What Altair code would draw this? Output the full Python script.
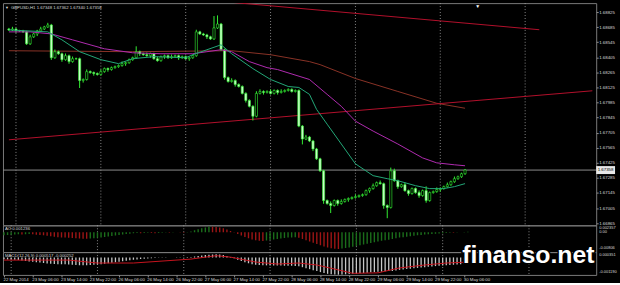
import altair as alt
import pandas as pd

# ---------------- data ----------------
first_open = 1.68668
close = [
    1.68659, 1.68668, 1.68650, 1.68650, 1.68641, 1.68530, 1.68595, 1.68622, 1.68650, 1.68668,
    1.68687, 1.68705, 1.68401, 1.68457, 1.68438, 1.68383, 1.68420, 1.68365, 1.68392, 1.68392,
    1.68190, 1.68199, 1.68272, 1.68263, 1.68254, 1.68245, 1.68272, 1.68300, 1.68291, 1.68309,
    1.68318, 1.68328, 1.68346, 1.68355, 1.68383, 1.68401, 1.68457, 1.68438, 1.68429, 1.68420,
    1.68438, 1.68392, 1.68374, 1.68411, 1.68420, 1.68401, 1.68411, 1.68420, 1.68401, 1.68411,
    1.68392, 1.68401, 1.68420, 1.68641, 1.68622, 1.68613, 1.68595, 1.68576, 1.68678, 1.68714,
    1.68475, 1.68217, 1.68180, 1.68190, 1.68153, 1.68134, 1.68070, 1.68005, 1.67950, 1.67858,
    1.68070, 1.68088, 1.68079, 1.68088, 1.68070, 1.68097, 1.68079, 1.68088, 1.68097, 1.68107,
    1.68088, 1.68097, 1.67766, 1.67646, 1.67665, 1.67628, 1.67554, 1.67462, 1.67351, 1.67075,
    1.67047, 1.67029, 1.67075, 1.67047, 1.67066, 1.67084, 1.67094, 1.67103, 1.67112, 1.67121,
    1.67130, 1.67167, 1.67186, 1.67213, 1.67241, 1.67232, 1.67029, 1.67011, 1.67351, 1.67259,
    1.67204, 1.67222, 1.67167, 1.67140, 1.67186, 1.67149, 1.67121, 1.67167, 1.67075, 1.67149,
    1.67158, 1.67177, 1.67186, 1.67204, 1.67222, 1.67250, 1.67278, 1.67296, 1.67324, 1.67358,
]
upper_wick_pips = [
    1, 2, 1, 1, 1, 1, 2, 1, 1, 2, 1, 2, 1, 2, 1, 1, 2, 1, 2, 1,
    1, 1, 2, 1, 1, 1, 2, 1, 1, 1, 1, 1, 2, 1, 1, 1, 5, 1, 1, 2,
    1, 1, 2, 1, 1, 1, 2, 1, 1, 1, 1, 1, 1, 2, 1, 1, 1, 1, 11, 8,
    1, 1, 1, 2, 1, 1, 1, 1, 1, 1, 2, 2, 1, 1, 2, 1, 1, 2, 1, 1,
    1, 1, 1, 1, 2, 1, 1, 1, 1, 1, 1, 2, 1, 1, 2, 1, 1, 1, 2, 1,
    1, 1, 1, 2, 1, 2, 1, 1, 3, 2, 1, 1, 2, 1, 1, 1, 2, 1, 4, 1,
    1, 2, 1, 1, 2, 1, 2, 1, 1, 1,
]
lower_wick_pips = [
    1, 1, 2, 1, 1, 1, 1, 1, 2, 1, 1, 1, 2, 1, 1, 2, 1, 2, 1, 1,
    7, 2, 1, 1, 2, 1, 1, 1, 2, 1, 1, 1, 1, 2, 1, 1, 1, 2, 1, 1,
    2, 1, 1, 1, 2, 1, 1, 1, 2, 1, 1, 2, 1, 1, 1, 1, 2, 1, 1, 1,
    1, 2, 1, 1, 2, 1, 1, 2, 1, 4, 1, 1, 2, 1, 1, 1, 2, 1, 1, 1,
    1, 1, 1, 5, 1, 1, 2, 1, 1, 3, 1, 7, 1, 2, 1, 1, 2, 1, 1, 1,
    1, 1, 2, 1, 1, 1, 3, 10, 1, 1, 2, 1, 1, 2, 1, 1, 2, 1, 2, 1,
    1, 1, 2, 1, 1, 1, 1, 1, 1, 1,
]

fast_ma_bar = [0, 11, 15, 20, 26, 31, 35, 41, 50, 52, 56, 60, 63, 69, 74, 79, 82, 85, 87, 90,
               94, 98, 103, 107, 110, 115, 119, 123, 126, 129]
fast_ma_val = [1.68659, 1.68641, 1.68567, 1.68457, 1.68383, 1.68346, 1.68392, 1.68411, 1.68401, 1.68429,
               1.68475, 1.68521, 1.68438, 1.68300, 1.68199, 1.68134, 1.68125, 1.68061, 1.67922, 1.67784,
               1.67600, 1.67416, 1.67306, 1.67278, 1.67259, 1.67213, 1.67186, 1.67186, 1.67204, 1.67232]
mid_ma_bar = [0, 6, 12, 18, 27, 35, 43, 52, 56, 60, 63, 68, 73, 76, 85, 90, 94, 98, 103, 110,
              117, 121, 126, 129]
mid_ma_val = [1.68641, 1.68641, 1.68622, 1.68567, 1.68484, 1.68447, 1.68438, 1.68438, 1.68457, 1.68475,
              1.68457, 1.68365, 1.68309, 1.68291, 1.68199, 1.68061, 1.67950, 1.67812, 1.67720, 1.67600,
              1.67471, 1.67425, 1.67407, 1.67398]
slow_ma_bar = [0, 35, 63, 74, 85, 88, 98, 110, 121, 129]
slow_ma_val = [1.68466, 1.68457, 1.68466, 1.68429, 1.68365, 1.68337, 1.68208, 1.68088, 1.67978, 1.67932]

trend_name = ["upper", "upper", "lower", "lower"]
trend_bar = [60, 150, 0, 165]
trend_val = [1.68924, 1.68661, 1.67639, 1.68094]

day_sep_bars = [2, 26, 50, 74, 98, 122, 146]
last_price = 1.67358
last_price_label = "1.67358"

ao_val = [
    -0.0012, -0.0011, -0.0010, -0.0009, -0.0008, -0.0009, -0.0008, -0.0007, -0.0008, -0.0010,
    -0.0011, -0.0012, -0.0014, -0.0016, -0.0018, -0.0020, -0.0021, -0.0022, -0.0023, -0.0024,
    -0.0025, -0.0026, -0.0027, -0.0027, -0.0026, -0.0025, -0.0023, -0.0021, -0.0019, -0.0017,
    -0.0015, -0.0013, -0.0011, -0.0009, -0.0007, -0.0006, -0.0004, -0.0003, -0.0004, -0.0003,
    -0.0002, -0.0003, -0.0004, -0.0003, -0.0002, -0.0001, -0.0002, -0.0001, 0.0000, -0.0001,
    -0.0002, -0.0001, 0.0003, 0.0008, 0.0012, 0.0016, 0.0019, 0.0023, 0.0022, 0.0021,
    0.0019, 0.0016, 0.0011, 0.0005, -0.0001, -0.0007, -0.0013, -0.0019, -0.0025, -0.0030,
    -0.0033, -0.0035, -0.0036, -0.0034, -0.0032, -0.0030, -0.0028, -0.0026, -0.0024, -0.0022,
    -0.0021, -0.0020, -0.0023, -0.0028, -0.0033, -0.0038, -0.0043, -0.0048, -0.0053, -0.0058,
    -0.0062, -0.0065, -0.0067, -0.0068, -0.0066, -0.0064, -0.0062, -0.0059, -0.0056, -0.0053,
    -0.0050, -0.0047, -0.0044, -0.0041, -0.0038, -0.0035, -0.0033, -0.0031, -0.0028, -0.0025,
    -0.0022, -0.0020, -0.0018, -0.0016, -0.0014, -0.0012, -0.0011, -0.0009, -0.0008, -0.0007,
    -0.0006, -0.0005, -0.0004, -0.0003, -0.0002, -0.0002, -0.0001, 0.0000, 0.0001, 0.0002,
]
macd_val = [
    -0.00015, -0.00017, -0.00020, -0.00020, -0.00022, -0.00025, -0.00030, -0.00033, -0.00036, -0.00040,
    -0.00042, -0.00045, -0.00050, -0.00052, -0.00054, -0.00055, -0.00056, -0.00057, -0.00058, -0.00060,
    -0.00062, -0.00064, -0.00065, -0.00064, -0.00062, -0.00060, -0.00058, -0.00055, -0.00052, -0.00048,
    -0.00044, -0.00040, -0.00036, -0.00032, -0.00028, -0.00024, -0.00020, -0.00017, -0.00014, -0.00011,
    -0.00009, -0.00007, -0.00005, -0.00004, -0.00003, -0.00002, -0.00001, 0.00000, 0.00001, 0.00002,
    0.00002, 0.00003, 0.00004, 0.00008, 0.00012, 0.00016, 0.00019, 0.00021, 0.00023, 0.00025,
    0.00024, 0.00020, 0.00012, 0.00003, -0.00008, -0.00020, -0.00030, -0.00040, -0.00048, -0.00055,
    -0.00060, -0.00062, -0.00064, -0.00065, -0.00066, -0.00066, -0.00067, -0.00067, -0.00068, -0.00068,
    -0.00069, -0.00070, -0.00072, -0.00080, -0.00088, -0.00096, -0.00104, -0.00112, -0.00120, -0.00128,
    -0.00134, -0.00138, -0.00140, -0.00141, -0.00140, -0.00138, -0.00136, -0.00134, -0.00132, -0.00130,
    -0.00128, -0.00125, -0.00122, -0.00120, -0.00118, -0.00116, -0.00114, -0.00112, -0.00110, -0.00106,
    -0.00102, -0.00098, -0.00095, -0.00092, -0.00089, -0.00086, -0.00083, -0.00080, -0.00077, -0.00074,
    -0.00071, -0.00068, -0.00066, -0.00064, -0.00062, -0.00060, -0.00058, -0.00056, -0.00054, -0.00052,
]
signal_bar = [0, 18, 26, 36, 52, 59, 63, 70, 76, 82, 87, 93, 97, 104, 110, 117, 123, 129]
signal_val = [-0.00022, -0.00022, -0.00046, -0.00046, -0.00014, 0.00014, 0.00002, -0.00038, -0.00054,
              -0.00046, -0.00062, -0.00102, -0.00130, -0.00126, -0.00086, -0.00062, -0.00046, -0.00038]

price_ticks = [1.66865, 1.67005, 1.67145, 1.67285, 1.67425, 1.67565, 1.67705, 1.67845,
               1.67985, 1.68125, 1.68265, 1.68405, 1.68545, 1.68685, 1.68825]
time_tick_bars = [0, 8, 16, 24, 32, 40, 48, 56, 64, 72, 80, 88, 96, 104, 112, 120, 128]
time_tick_labels = ["22 May 2014", "23 May 06:00", "23 May 14:00", "23 May 22:00", "26 May 06:00",
                    "26 May 14:00", "26 May 22:00", "27 May 06:00", "27 May 14:00", "27 May 22:00",
                    "28 May 06:00", "28 May 14:00", "28 May 22:00", "29 May 06:00", "29 May 14:00",
                    "29 May 22:00", "30 May 06:00"]

title_text = "GBPUSD,H1  1.67348 1.67362 1.67340 1.67358"
ao_title = "AO 0.001236"
macd_title = "MACD(12,26,9) 0.000517 -0.000252"
ao_scale_labels = ["0.002357", "0.00", "-0.00806"]
macd_scale_labels = ["0.000351", "-0.001190"]
watermark = "finanso.net"

# ---------------- tables ----------------
n = len(close)
bars = list(range(n))
opens = [first_open] + close[:-1]
high = [max(o, c) + u * 0.0001 for o, c, u in zip(opens, close, upper_wick_pips)]
low = [min(o, c) - d * 0.0001 for o, c, d in zip(opens, close, lower_wick_pips)]
candles = pd.DataFrame({"bar": bars, "open": opens, "close": close, "high": high, "low": low})
candles["fill"] = ["#000000" if c >= o else "#c8ffc8" for o, c in zip(opens, close)]

fast_df = pd.DataFrame({"bar": fast_ma_bar, "val": fast_ma_val})
mid_df = pd.DataFrame({"bar": mid_ma_bar, "val": mid_ma_val})
slow_df = pd.DataFrame({"bar": slow_ma_bar, "val": slow_ma_val})
trend_df = pd.DataFrame({"name": trend_name, "bar": trend_bar, "val": trend_val})
grid_df = pd.DataFrame({"bar": day_sep_bars})
last_df = pd.DataFrame({"price": [last_price], "label": [last_price_label]})

AO_UP, AO_DOWN = "#1b6e1b", "#9c1515"
ao_colors = [AO_UP] + [AO_UP if ao_val[i] > ao_val[i - 1] else AO_DOWN for i in range(1, n)]
ao_df = pd.DataFrame({"bar": bars, "ao": ao_val, "zero": [0.0] * n, "color": ao_colors})
macd_df = pd.DataFrame({"bar": bars, "macd": macd_val, "zero": [0.0] * n})
signal_df = pd.DataFrame({"bar": signal_bar, "sig": signal_val})

# ---------------- encodings ----------------
FONT = "Liberation Sans"
TXT = "#d8d8d8"
X_DOMAIN = [-0.276, 164.69]


def xenc(axis=None):
    return alt.X("bar:Q", scale=alt.Scale(domain=X_DOMAIN, nice=False, zero=False), axis=axis)


main_scale = alt.Scale(domain=[1.66845, 1.68908], nice=False, zero=False)
main_axis = alt.Axis(orient="right", values=price_ticks, format=".5f", labelFontSize=4.4,
                     labelColor=TXT, labelFont=FONT, tickColor="#909090", tickSize=2,
                     labelPadding=0.5, domain=False, grid=False, title=None,
                     labelBaseline="middle", labelOverlap=False, labelFlush=False)


def ymain(f):
    return alt.Y(f"{f}:Q", scale=main_scale, axis=main_axis)


def one(text):
    return pd.DataFrame({"t": [text]})


def label(text, x, y, size=4.3, color=TXT, align="left", baseline="middle"):
    return alt.Chart(one(text)).mark_text(align=align, baseline=baseline, fontSize=size,
                                          color=color, font=FONT).encode(
        x=alt.value(x), y=alt.value(y), text="t:N")


# ---------------- main panel ----------------
grid_main = alt.Chart(grid_df).mark_rule(color="#a8a8a8", strokeDash=[1, 2], strokeWidth=0.8).encode(x=xenc())
slow = alt.Chart(slow_df).mark_line(color="#8a3326", strokeWidth=1, clip=True).encode(x=xenc(), y=ymain("val"))
trend = alt.Chart(trend_df).mark_line(color="#b3102c", strokeWidth=1, clip=True).encode(
    x=xenc(), y=ymain("val"), detail="name:N")
lastline = alt.Chart(last_df).mark_rule(color="#8c8c8c", strokeWidth=1).encode(y=ymain("price"))
wicks = alt.Chart(candles).mark_rule(color="#33ee33", strokeWidth=1, clip=True).encode(
    x=xenc(), y=ymain("low"), y2="high")
bodies = alt.Chart(candles).mark_bar(width=2.2, stroke="#33ee33", strokeWidth=0.6, clip=True).encode(
    x=xenc(), y=ymain("open"), y2="close", fill=alt.Fill("fill:N", scale=None))
mid = alt.Chart(mid_df).mark_line(color="#b02cb0", strokeWidth=1, clip=True).encode(x=xenc(), y=ymain("val"))
fast = alt.Chart(fast_df).mark_line(color="#23a878", strokeWidth=1, clip=True).encode(x=xenc(), y=ymain("val"))
box = alt.Chart(last_df).mark_rule(color="#e8e8e8", strokeWidth=8).encode(
    x=alt.value(598), x2=alt.value(617), y=ymain("price"))
box_text = alt.Chart(last_df).mark_text(align="left", baseline="middle", fontSize=4.4,
                                        color="#000000", font=FONT).encode(
    x=alt.value(599.5), y=ymain("price"), text="label:N")

main = alt.layer(
    grid_main, slow, trend, lastline, wicks, bodies, mid, fast, box, box_text,
    label("\u25bc", 2, 4.7, size=4), label(title_text, 8, 4.7), label("\u25bc", 476, 2.5, size=5, color="#ffffff"),
).properties(width=598, height=224)

# ---------------- AO panel ----------------
ao_scale = alt.Scale(domain=[-0.00804, 0.00276], nice=False, zero=False)
grid_ao = alt.Chart(grid_df).mark_rule(color="#a8a8a8", strokeDash=[1, 2], strokeWidth=0.8).encode(x=xenc())
ao_bars = alt.Chart(ao_df).mark_rule(strokeWidth=1.4, clip=True).encode(
    x=xenc(), y=alt.Y("ao:Q", scale=ao_scale, axis=None), y2="zero", color=alt.Color("color:N", scale=None))
ao_panel = alt.layer(
    grid_ao, ao_bars,
    label(ao_title, 2, 4),
    label(ao_scale_labels[0], 601, 2.3, size=4.0),
    label(ao_scale_labels[1], 601, 7.2, size=4.0),
    label(ao_scale_labels[2], 601, 23, size=4.0),
).properties(width=598, height=27)

# ---------------- MACD panel ----------------
labels_js = "[" + ",".join("'%s'" % s for s in time_tick_labels) + "]"
x_axis = alt.Axis(values=time_tick_bars, labelExpr=labels_js + "[round(datum.value/8)]",
                  labelAlign="left", labelBaseline="top", labelFontSize=4.4, labelFont=FONT,
                  labelColor=TXT, tickColor="#909090", tickSize=2, labelPadding=1, domain=False,
                  grid=False, title=None, labelOverlap=False, labelFlush=False, labelOffset=-1)
macd_scale = alt.Scale(domain=[-0.00143, 0.00043], nice=False, zero=False)
grid_macd = alt.Chart(grid_df).mark_rule(color="#a8a8a8", strokeDash=[1, 2], strokeWidth=0.8).encode(
    x=xenc(x_axis))
macd_bars = alt.Chart(macd_df).mark_rule(color="#c8c8c8", strokeWidth=1.3, clip=True).encode(
    x=xenc(x_axis), y=alt.Y("macd:Q", scale=macd_scale, axis=None), y2="zero")
sig_line = alt.Chart(signal_df).mark_line(color="#c8141e", strokeWidth=1, clip=True).encode(
    x=xenc(x_axis), y=alt.Y("sig:Q", scale=macd_scale, axis=None))
wm_shadow = alt.Chart(one(watermark)).mark_text(
    align="left", baseline="alphabetic", fontSize=25, fontWeight="bold", font=FONT,
    color="#000000", stroke="#000000", strokeWidth=3).encode(x=alt.value(463), y=alt.value(11), text="t:N")
wm = alt.Chart(one(watermark)).mark_text(
    align="left", baseline="alphabetic", fontSize=25, fontWeight="bold", font=FONT,
    color="#ffffff").encode(x=alt.value(463), y=alt.value(11), text="t:N")
macd_panel = alt.layer(
    grid_macd, macd_bars, sig_line,
    label(macd_title, 2, 4),
    label(macd_scale_labels[0], 601, 3, size=4.0),
    label(macd_scale_labels[1], 601, 20, size=4.0),
    wm_shadow, wm,
).properties(width=598, height=23)

chart = alt.vconcat(main, ao_panel, macd_panel, spacing=0, bounds="flush").resolve_scale(
    x="independent", y="independent"
).configure(
    background="#000000", padding={"left": 2, "top": 1, "right": 0, "bottom": 0}
).configure_view(stroke="#7a7a7a", strokeWidth=1)

chart.save("out.html", embed_options={"renderer": "svg", "actions": False})
